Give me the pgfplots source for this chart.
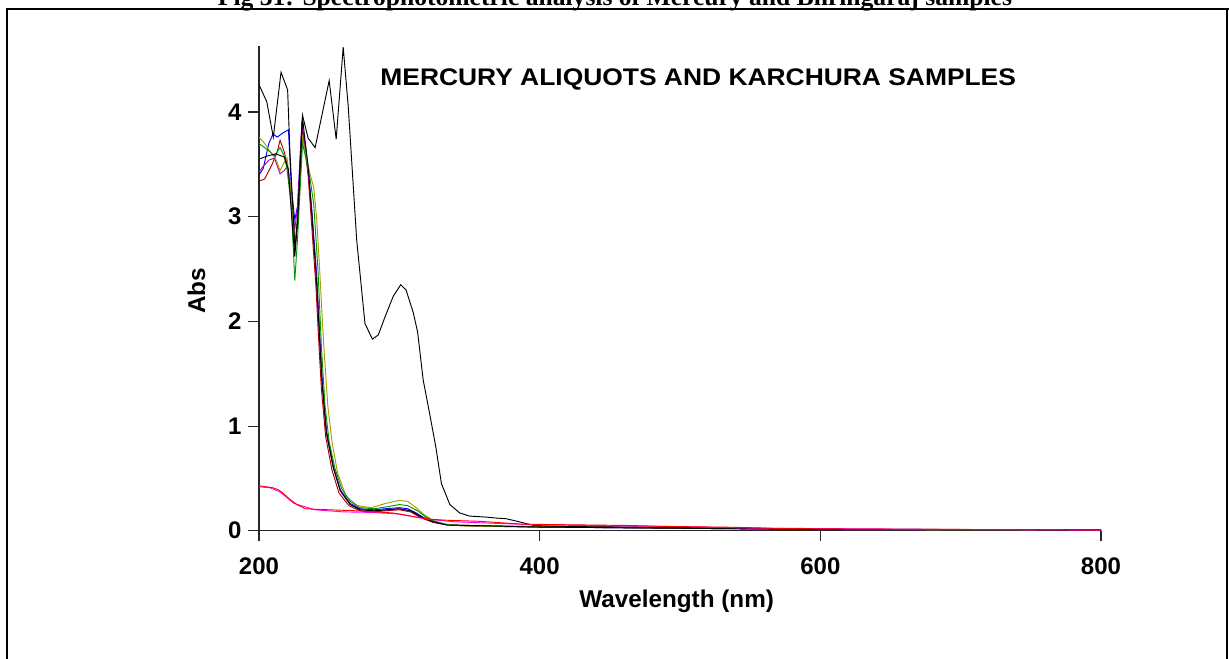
\documentclass[border=0pt]{standalone}
\usepackage{fontspec}
\setmainfont{Liberation Sans}
\newfontfamily\capfont{Liberation Serif}
\usepackage{pgfplots}
\pgfplotsset{compat=1.18}
\definecolor{cblue}{RGB}{0,0,255}
\definecolor{cdarkred}{RGB}{170,0,0}
\definecolor{cpurple}{RGB}{180,0,180}
\definecolor{colive}{RGB}{160,160,0}
\definecolor{cgreen}{RGB}{0,150,0}
\definecolor{cred}{RGB}{255,0,0}
\definecolor{cmagenta}{RGB}{255,0,255}

\begin{document}
\begin{tikzpicture}[x=1pt,y=1pt]
\useasboundingbox (0,0) rectangle (921.75,494.25);
\clip (0,0) rectangle (921.75,494.25);
% cut-off caption of the page
\node[anchor=base, inner sep=0pt] at (461.25,489.75)
  {\resizebox{595.5pt}{!}{\capfont\bfseries Fig 31: Spectrophotometric analysis of Mercury and Bhringaraj samples}};
\draw[line width=1.5pt] (4.5,487.5) -- (921.75,487.5);
\draw[line width=1.5pt] (5.25,0) -- (5.25,488.25);
\draw[line width=1.5pt] (920.25,0) -- (920.25,488.25);

\begin{axis}[
  at={(194.25pt,96.2pt)}, anchor=south west,
  scale only axis, width=631.5pt, height=363.5pt,
  xmin=200, xmax=800, ymin=0, ymax=4.63,
  axis x line*=bottom, axis y line*=left,
  axis line style={-, line width=1pt, black!85},
  xtick={200,400,600,800}, ytick={0,1,2,3,4},
  tick align=outside, major tick length=8pt,
  tick style={line width=0.8pt, black!85},
  /pgf/number format/assume math mode=true,
  /pgf/number format/1000 sep={},
  ticklabel style={font=\fontsize{18}{20}\selectfont\bfseries},
  xticklabel style={anchor=base, yshift=-25pt},
  yticklabel style={anchor=east, inner sep=0pt, xshift=-5pt},
  xlabel={Wavelength (nm)}, ylabel={Abs},
  label style={font=\fontsize{18.2}{20}\selectfont\bfseries},
  xlabel style={at={([yshift=-57.95pt]axis description cs:0.496,0)}, anchor=base},
  ylabel style={at={([xshift=-40.5pt]axis description cs:0,0.4945)}, anchor=base},
  every axis plot/.append style={line width=0.7pt, no markers},
]
\addplot[cblue] coordinates {(200,3.40)(203,3.46)(207,3.70)(210,3.79)(213,3.76)(217,3.80)(221,3.83)(223,3.29)(225.5,2.97)(227.5,3.10)(230.5,3.87)(233,3.70)(235,3.45)(237.5,3.09)(241,2.46)(243.5,1.82)(245,1.45)(248,0.96)(253,0.61)(258,0.39)(265,0.26)(272,0.21)(282,0.20)(290,0.21)(300,0.22)(306,0.21)(312,0.17)(318,0.12)(325,0.085)(335,0.055)(350,0.045)(400,0.035)(450,0.03)(530,0.02)(600,0.012)(700,0.008)(800,0.005)};
\addplot[cdarkred] coordinates {(200,3.34)(204,3.36)(209,3.49)(213,3.62)(215,3.73)(218,3.62)(220,3.50)(223,3.25)(225.5,2.70)(227.5,2.95)(230.5,3.85)(233,3.62)(235,3.40)(237,3.02)(240.5,2.35)(243,1.70)(244.5,1.35)(247.5,0.90)(252,0.58)(257,0.36)(264,0.24)(272,0.19)(282,0.18)(290,0.19)(300,0.20)(308,0.18)(316,0.12)(324,0.08)(334,0.055)(360,0.045)(400,0.04)(470,0.035)(530,0.025)(600,0.012)(700,0.008)(800,0.005)};
\addplot[cpurple] coordinates {(200,3.43)(203,3.48)(207,3.54)(211,3.56)(215,3.41)(218,3.44)(220,3.48)(223,3.18)(225.5,2.88)(227.5,3.10)(230.5,3.88)(233,3.66)(235,3.42)(237.5,3.05)(241,2.42)(243.5,1.78)(245,1.42)(248,0.93)(253,0.60)(258,0.38)(265,0.25)(272,0.20)(282,0.19)(290,0.20)(300,0.21)(308,0.19)(316,0.13)(324,0.085)(334,0.055)(400,0.035)(530,0.02)(600,0.012)(800,0.005)};
\addplot[colive] coordinates {(200,3.76)(204,3.70)(208,3.62)(212,3.55)(215,3.44)(218,3.52)(220,3.56)(223,3.20)(225.5,2.75)(227.5,2.95)(231,3.75)(234,3.55)(236.5,3.40)(239,3.28)(241,3.00)(243,2.55)(246,1.80)(249,1.20)(252,0.85)(256,0.55)(262,0.33)(270,0.24)(280,0.22)(290,0.26)(300,0.29)(306,0.28)(312,0.22)(318,0.15)(324,0.10)(332,0.065)(345,0.045)(400,0.035)(530,0.025)(600,0.012)(700,0.008)(800,0.005)};
\addplot[cgreen] coordinates {(200,3.70)(204,3.66)(207,3.63)(211,3.58)(215,3.66)(218,3.58)(220,3.45)(223,3.10)(225.5,2.39)(227.5,2.80)(231,3.70)(234,3.52)(236.5,3.35)(239,3.12)(242,2.50)(244.5,1.75)(247,1.20)(250,0.85)(254,0.60)(259,0.40)(265,0.28)(272,0.22)(282,0.21)(292,0.23)(300,0.25)(306,0.24)(313,0.19)(319,0.13)(326,0.085)(335,0.055)(400,0.035)(530,0.022)(600,0.012)(800,0.005)};
\addplot[black] coordinates {(200,3.55)(206,3.58)(212,3.60)(218,3.57)(221,3.45)(223,3.05)(225.5,2.62)(227.5,2.95)(231,3.95)(233,3.70)(235,3.48)(237.5,3.05)(241,2.38)(243.5,1.75)(245,1.40)(248,0.94)(253,0.60)(258,0.38)(265,0.25)(272,0.20)(282,0.19)(292,0.20)(300,0.21)(308,0.19)(316,0.13)(324,0.085)(334,0.055)(400,0.035)(530,0.02)(600,0.012)(800,0.005)};
\addplot[black] coordinates {(200,4.26)(205.5,4.10)(210.2,3.76)(215.7,4.38)(220.4,4.21)(222,3.63)(225.7,2.68)(228,3.10)(231,3.97)(235,3.75)(240,3.66)(250,4.30)(255,3.74)(260,4.62)(263.6,4.05)(269.6,2.78)(275.5,1.98)(280.8,1.83)(285,1.87)(290,2.05)(295.7,2.24)(301,2.35)(304.8,2.30)(310,2.08)(313,1.90)(317,1.44)(322,1.09)(326,0.80)(330,0.45)(336,0.25)(343,0.17)(350,0.14)(362,0.13)(370,0.12)(376,0.115)(384,0.09)(390,0.07)(396,0.05)(420,0.04)(500,0.03)(600,0.015)(800,0.008)};
\addplot[cmagenta] coordinates {(200,0.42)(208,0.41)(215,0.37)(225,0.26)(240,0.20)(260,0.18)(280,0.175)(300,0.16)(320,0.11)(340,0.085)(400,0.055)(500,0.04)(550,0.025)(700,0.012)(800,0.005)};
\addplot[cred] coordinates {(200,0.43)(205,0.42)(210,0.41)(214,0.39)(217,0.36)(222,0.30)(227,0.25)(233,0.21)(240,0.205)(250,0.20)(270,0.19)(295,0.17)(310,0.135)(322,0.11)(334,0.10)(357,0.09)(386,0.064)(402,0.06)(464,0.05)(478,0.045)(493,0.04)(538,0.033)(571,0.022)(620,0.016)(677,0.013)(768,0.01)(800,0.008)};
\node[anchor=base, inner sep=0pt] at (axis cs:513,4.25)
  {\scalebox{1.1}[1]{\fontsize{18}{20}\selectfont\bfseries MERCURY ALIQUOTS AND KARCHURA SAMPLES}};
\end{axis}
\end{tikzpicture}
\end{document}
